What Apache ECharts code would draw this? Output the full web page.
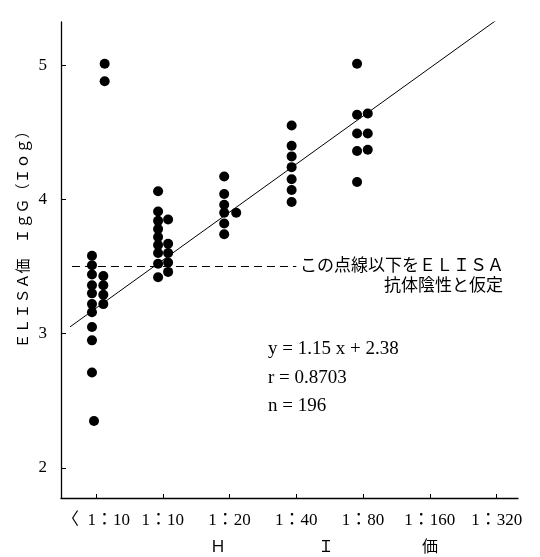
<!DOCTYPE html>
<html>
<head>
<meta charset="utf-8">
<script src="https://cdn.jsdelivr.net/npm/echarts@6/dist/echarts.min.js"></script>
<style>
  html, body { margin: 0; padding: 0; background: #fff; }
  #main { width: 540px; height: 557px; }
</style>
</head>
<body>
<div id="main"></div>
<script>
// HI価のカテゴリ（x軸）
var titers = ['〈\u20021：10', '1：10', '1：20', '1：40', '1：80', '1：160', '1：320'];
var titerTicks = [0, 1, 2, 3, 4, 5, 6];
var yTicks = [2, 3, 4, 5];

// 各群の測定値 [x位置, ELISA価]
var ptsLt10 = [[-0.06, 3.58], [-0.06, 3.51], [-0.06, 3.44], [-0.06, 3.36], [-0.06, 3.30],
               [-0.06, 3.22], [-0.06, 3.16], [-0.06, 3.05], [-0.06, 2.95], [-0.06, 2.71],
               [-0.03, 2.35], [0.11, 3.43], [0.11, 3.36], [0.11, 3.29], [0.11, 3.22],
               [0.13, 5.01], [0.13, 4.88]];
var pts10 = [[0.93, 4.06], [0.93, 3.91], [0.93, 3.84], [0.93, 3.78], [0.93, 3.72],
             [0.93, 3.66], [0.93, 3.60], [0.93, 3.52], [0.93, 3.42],
             [1.08, 3.85], [1.08, 3.67], [1.08, 3.60], [1.08, 3.53], [1.08, 3.46]];
var pts20 = [[1.92, 4.17], [1.92, 4.04], [1.92, 3.96], [1.92, 3.90], [1.92, 3.82],
             [1.92, 3.74], [2.10, 3.90]];
var pts40 = [[2.93, 4.55], [2.93, 4.40], [2.93, 4.32], [2.93, 4.24], [2.93, 4.15],
             [2.93, 4.07], [2.93, 3.98]];
var pts80 = [[3.91, 5.01], [3.91, 4.63], [3.91, 4.49], [3.91, 4.36], [3.91, 4.13],
             [4.07, 4.64], [4.07, 4.49], [4.07, 4.37]];
var pts320 = [[5.93, 5.36]];

// 回帰直線と判定基準
var fitLine = [[-0.39, 3.05], [6.15, 5.39]];
var cutoff = 3.5;
var cutoffX = [-0.36, 3.0];

var serif = '"Liberation Serif", "DejaVu Serif", "Noto Sans CJK JP", serif';
var jp = '"Noto Sans CJK JP", sans-serif';

var chart = echarts.init(document.getElementById('main'));

function dots(data) {
  return {
    type: 'scatter',
    data: data,
    symbol: 'circle',
    symbolSize: 10,
    itemStyle: { color: '#000', opacity: 1 },
    silent: true,
    z: 3
  };
}

chart.setOption({
  animation: false,
  backgroundColor: '#fff',
  grid: { left: 61, right: 22, top: 22, bottom: 59 },
  xAxis: {
    type: 'value',
    min: -0.524,
    max: 6.32,
    splitLine: { show: false },
    axisLine: { show: true, onZero: false, lineStyle: { color: '#000', width: 1.3 } },
    axisTick: { show: true, inside: true, length: 4, customValues: titerTicks, lineStyle: { color: '#000' } },
    axisLabel: {
      customValues: titerTicks,
      formatter: function (v) { return titers[Math.round(v)]; },
      color: '#000',
      fontFamily: serif,
      fontSize: 17,
      margin: 14
    }
  },
  yAxis: {
    type: 'value',
    min: 1.776,
    max: 5.321,
    splitLine: { show: false },
    axisLine: { show: true, onZero: false, lineStyle: { color: '#000', width: 1.3 } },
    axisTick: { show: true, inside: true, length: 5, customValues: yTicks, lineStyle: { color: '#000' } },
    axisLabel: {
      customValues: yTicks,
      color: '#000',
      fontFamily: serif,
      fontSize: 17,
      margin: 14
    }
  },
  series: [
    dots(ptsLt10), dots(pts10), dots(pts20), dots(pts40), dots(pts80), dots(pts320),
    {
      type: 'line',
      data: fitLine,
      symbol: 'none',
      silent: true,
      lineStyle: { color: '#000', width: 1 },
      z: 2
    },
    {
      type: 'line',
      data: [[cutoffX[0], cutoff], [cutoffX[1], cutoff]],
      symbol: 'none',
      silent: true,
      lineStyle: { color: '#000', width: 1, type: [8, 5] },
      z: 2
    }
  ],
  graphic: [
    // 縦軸の名前
    { type: 'text', x: 22, y: 236, rotation: Math.PI / 2,
      style: { text: 'ＥＬＩＳＡ価　ＩｇＧ（Ｉｏｇ）', font: '15px ' + jp, fill: '#000', align: 'center', verticalAlign: 'middle' } },
    { type: 'text', left: 300, top: 256, style: { text: 'この点線以下をＥＬＩＳＡ', font: '17px ' + jp, fill: '#000' } },
    { type: 'text', right: 37, top: 276, style: { text: '抗体陰性と仮定', font: '17px ' + jp, fill: '#000' } },
    { type: 'text', left: 268, top: 340, style: { text: 'y = 1.15 x + 2.38', font: '19px ' + serif, fill: '#000' } },
    { type: 'text', left: 268, top: 369, style: { text: 'r = 0.8703', font: '19px ' + serif, fill: '#000' } },
    { type: 'text', left: 268, top: 397, style: { text: 'n = 196', font: '19px ' + serif, fill: '#000' } },
    { type: 'text', left: 210, top: 538, style: { text: 'Ｈ', font: '16px ' + jp, fill: '#000' } },
    { type: 'text', left: 318, top: 538, style: { text: 'Ｉ', font: '16px ' + jp, fill: '#000' } },
    { type: 'text', left: 422, top: 538, style: { text: '価', font: '16px ' + jp, fill: '#000' } }
  ]
});
</script>
</body>
</html>
